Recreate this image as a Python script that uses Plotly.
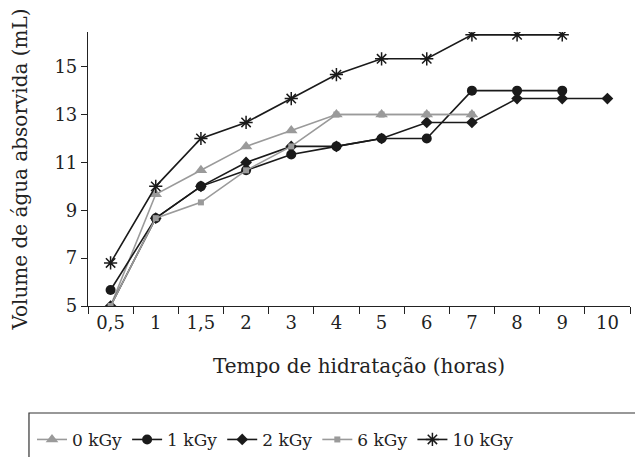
import plotly.graph_objects as go

categories = ["0,5", "1", "1,5", "2", "3", "4", "5", "6", "7", "8", "9", "10"]
kgy0 = [5.0, 9.67, 10.67, 11.67, 12.33, 13.0, 13.0, 13.0, 13.0]
kgy1 = [5.67, 8.67, 10.0, 10.67, 11.33, 11.67, 12.0, 12.0, 14.0, 14.0, 14.0]
kgy2 = [5.0, 8.67, 10.0, 11.0, 11.67, 11.67, 12.0, 12.67, 12.67, 13.67, 13.67, 13.67]
kgy6 = [5.0, 8.67, 9.33, 10.67, 11.67, 13.0, 13.0, 13.0, 13.0]
kgy10 = [6.8, 10.0, 12.0, 12.67, 13.67, 14.67, 15.33, 15.33, 16.33, 16.33, 16.33]
y_ticks = [5, 7, 9, 11, 13, 15]

GRAY = "#9a9a9a"
BLACK = "#1a1a1a"
FONT = "DejaVu Serif"

fig = go.Figure()
fig.add_trace(go.Scatter(x=categories[:len(kgy0)], y=kgy0, name="0 kGy", mode="lines+markers",
                         line=dict(color=GRAY, width=1.6),
                         marker=dict(symbol="triangle-up", size=11, color=GRAY)))
fig.add_trace(go.Scatter(x=categories[:len(kgy1)], y=kgy1, name="1 kGy", mode="lines+markers",
                         line=dict(color=BLACK, width=1.6),
                         marker=dict(symbol="circle", size=10, color=BLACK)))
fig.add_trace(go.Scatter(x=categories[:len(kgy2)], y=kgy2, name="2 kGy", mode="lines+markers",
                         line=dict(color=BLACK, width=1.6),
                         marker=dict(symbol="diamond", size=9, color=BLACK)))
fig.add_trace(go.Scatter(x=categories[:len(kgy6)], y=kgy6, name="6 kGy", mode="lines+markers",
                         line=dict(color=GRAY, width=1.6),
                         marker=dict(symbol="square", size=6, color=GRAY)))
fig.add_trace(go.Scatter(x=categories[:len(kgy10)], y=kgy10, name="10 kGy", mode="lines+markers",
                         line=dict(color=BLACK, width=1.6),
                         marker=dict(symbol="asterisk-open", size=11, color=BLACK,
                                     line=dict(color=BLACK, width=1.5))))

# legend frame (wider than the items, running off the right edge)
fig.add_shape(type="rect", xref="paper", yref="paper",
              x0=-0.1089, x1=1.05, y0=-0.3905, y1=-0.65,
              line=dict(color="#333", width=1.2), fillcolor="rgba(0,0,0,0)")

fig.update_layout(
    width=635, height=449,
    margin=dict(l=80, r=13, t=24, b=151, autoexpand=False),
    paper_bgcolor="white", plot_bgcolor="white",
    font=dict(family=FONT, size=17, color="#222"),
    showlegend=True,
    legend=dict(orientation="h", x=-0.1033, xanchor="left", y=-0.423, yanchor="top",
                borderwidth=0, font=dict(family=FONT, size=17), bgcolor="rgba(0,0,0,0)",
                itemwidth=30, tracegroupgap=0),
)
fig.update_xaxes(
    type="category", categoryorder="array", categoryarray=categories,
    range=[-0.5, len(categories) - 0.5],
    showline=True, linecolor="#222", linewidth=1.2,
    ticks="outside", tickson="boundaries", ticklen=7, tickcolor="#222",
    tickfont=dict(family=FONT, size=18),
    showgrid=False, zeroline=False, automargin=False,
    title=dict(text="Tempo de hidratação (horas)", standoff=27, font=dict(family=FONT, size=20)),
)
fig.update_yaxes(
    range=[5, 16.45], tickvals=y_ticks,
    showline=True, linecolor="#222", linewidth=1.2,
    ticks="outside", ticklen=6, tickcolor="#222",
    tickfont=dict(family=FONT, size=18),
    showgrid=False, zeroline=False, automargin=False,
    title=dict(text="Volume de água absorvida (mL)", standoff=24, font=dict(family=FONT, size=20)),
)

fig.write_html("out.html")
